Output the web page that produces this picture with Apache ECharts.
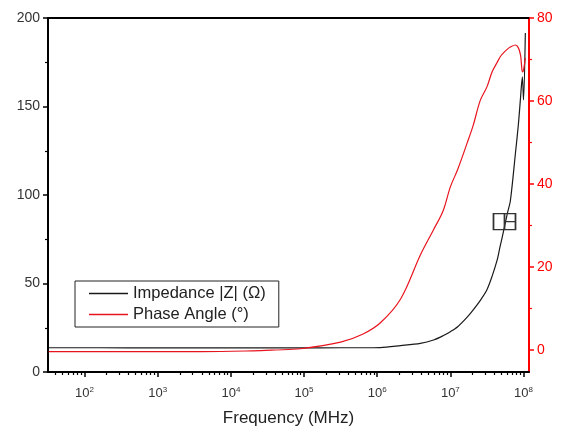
<!DOCTYPE html>
<html lang="en">
<head>
    <meta charset="UTF-8">
    <title>Impedance / Phase Angle</title>
    <script src="https://cdn.jsdelivr.net/npm/echarts@6/dist/echarts.min.js"></script>
</head>
<body style="margin:0;">
<div id="box" style="width: 564px;height: 430px;"></div>
<script>
    // x = log10(frequency)
    var logFreq = [1.51, 2.2, 3.0, 3.6, 4.3, 4.6, 4.95, 5.5, 5.8, 6.04, 6.32, 6.59, 6.77, 6.9, 7.0, 7.1,
        7.23, 7.31, 7.41, 7.5, 7.57, 7.64, 7.68, 7.71, 7.78, 7.82, 7.89, 7.93, 7.96, 7.97, 7.985, 8.0, 8.025];
    var impedance = [13.7, 13.7, 13.6, 13.6, 13.6, 13.6, 13.6, 13.7, 13.7, 13.8, 14.9, 16.2, 18.1, 20.5, 22.8, 25.6,
        31.0, 35.0, 40.5, 46.5, 54.0, 63.3, 71.0, 76.3, 89.8, 96.6, 123.7, 140.0, 155.4, 161.0, 166.7, 153.7, 191.5];
    var phase = [-0.4, -0.4, -0.4, -0.4, -0.2, 0.0, 0.3, 1.9, 3.8, 6.5, 12.3, 22.9, 29.0, 33.5, 39.3, 43.5,
        49.9, 54.0, 60.2, 63.4, 67.0, 69.3, 70.6, 71.3, 72.5, 73.0, 73.5, 72.8, 71.0, 69.2, 67.0, 67.5, 70.4];
    var decades = [2, 3, 4, 5, 6, 7, 8];
    var leftTicks = [0, 50, 100, 150, 200];
    var rightTicks = [0, 20, 40, 60, 80];
    var rightMinor = [10, 30, 50, 70];
    // small box marker sitting on the impedance curve
    var markerPos = [7.74, 85];

    var minorLog = [];
    for (var n = 1; n <= 7; n++) {
        for (var k = 2; k <= 9; k++) {
            var v = n + Math.log10(k);
            if (v > 1.5 && v < 8.075) minorLog.push(v);
        }
    }

    var font = 'Liberation Sans, Arial, sans-serif';
    var red = '#ff0000';
    var xMin = 1.5, xMax = 8.075;

    var myChart = echarts.init(document.getElementById('box'));
    var option = {
        animation: false,
        grid: {left: 48, right: 35, top: 18, bottom: 58, outerBoundsMode: 'none'},
        legend: {
            orient: 'vertical',
            left: 75,
            top: 281,
            padding: [4, 13, 4, 14],
            icon: 'rect',
            itemWidth: 39,
            itemHeight: 1.3,
            itemGap: 4,
            borderColor: '#222',
            borderWidth: 1,
            textStyle: {fontFamily: font, fontSize: 16.5, color: '#222'},
            data: ['Impedance |Z| (\u03A9)', 'Phase Angle (\u00B0)']
        },
        xAxis: [
            {
                type: 'value', min: xMin, max: xMax, position: 'bottom',
                name: 'Frequency (MHz)', nameLocation: 'middle', nameGap: 38,
                nameTextStyle: {fontFamily: font, fontSize: 17, color: '#222'},
                axisLine: {onZero: false, lineStyle: {color: '#000', width: 2}},
                axisTick: {customValues: decades, length: 5, lineStyle: {color: '#000', width: 1.5}},
                axisLabel: {
                    customValues: decades, margin: 14,
                    formatter: function (v) { return '{b|10}{s|' + v + '}'; },
                    rich: {
                        b: {fontFamily: font, fontSize: 13, color: '#333'},
                        s: {fontFamily: font, fontSize: 8, color: '#333', padding: [0, 0, 7, 0]}
                    }
                },
                splitLine: {show: false}
            },
            {
                type: 'value', min: xMin, max: xMax, position: 'bottom',
                axisLine: {show: false, onZero: false},
                axisTick: {customValues: minorLog, length: 3, lineStyle: {color: '#000', width: 1.2}},
                axisLabel: {show: false},
                splitLine: {show: false}
            },
            {
                type: 'value', min: xMin, max: xMax, position: 'top',
                axisLine: {onZero: false, lineStyle: {color: '#000', width: 2}},
                axisTick: {show: false},
                axisLabel: {show: false},
                splitLine: {show: false}
            }
        ],
        yAxis: [
            {
                type: 'value', min: 0, max: 200, interval: 50, position: 'left',
                axisLine: {show: true, onZero: false, lineStyle: {color: '#000', width: 2}},
                axisTick: {show: true, length: 5, lineStyle: {color: '#000', width: 1.5}},
                minorTick: {show: true, splitNumber: 2, length: 3, lineStyle: {color: '#000', width: 1.2}},
                axisLabel: {fontFamily: font, fontSize: 14, color: '#333', margin: 8},
                splitLine: {show: false}
            },
            {
                type: 'value', min: -5.3, max: 80, position: 'right',
                axisLine: {show: true, onZero: false, lineStyle: {color: red, width: 2}},
                axisTick: {show: true, customValues: rightTicks, length: 5, lineStyle: {color: red, width: 1.5}},
                axisLabel: {customValues: rightTicks, fontFamily: font, fontSize: 14, color: red, margin: 8},
                splitLine: {show: false}
            },
            {
                type: 'value', min: -5.3, max: 80, position: 'right',
                axisLine: {show: false, onZero: false},
                axisTick: {show: true, customValues: rightMinor, length: 3, lineStyle: {color: red, width: 1.2}},
                axisLabel: {show: false},
                splitLine: {show: false}
            }
        ],
        series: [
            {
                name: 'Impedance |Z| (\u03A9)',
                type: 'line',
                xAxisIndex: 0, yAxisIndex: 0,
                symbol: 'none',
                smooth: 0.3,
                lineStyle: {color: '#1a1a1a', width: 1.2},
                itemStyle: {color: '#1a1a1a'},
                data: logFreq.map(function (x, i) { return [x, impedance[i]]; }),
                markPoint: {
                    symbol: 'path://M0,0H22V16H0Z M11,0V16 M11,8H22',
                    symbolSize: [22, 16],
                    label: {show: false},
                    itemStyle: {color: 'rgba(0,0,0,0)', borderColor: '#333', borderWidth: 1.5},
                    data: [{coord: markerPos}]
                }
            },
            {
                name: 'Phase Angle (\u00B0)',
                type: 'line',
                xAxisIndex: 0, yAxisIndex: 1,
                symbol: 'none',
                smooth: 0.35,
                lineStyle: {color: '#e8141e', width: 1.2},
                itemStyle: {color: '#e8141e'},
                data: logFreq.map(function (x, i) { return [x, phase[i]]; })
            }
        ]
    };
    myChart.setOption(option);
</script>
</body>
</html>
